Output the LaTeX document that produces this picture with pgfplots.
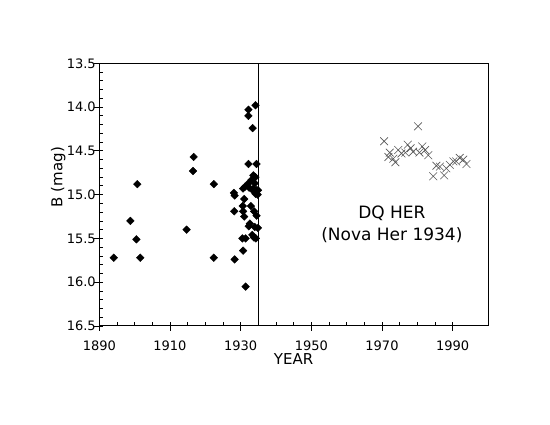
\documentclass[border=0pt]{standalone}
\usepackage{fontspec}
\setmainfont{DejaVu Sans}
\usepackage{pgfplots}
\pgfplotsset{compat=1.18}
\begin{document}
\begin{tikzpicture}
\path[use as bounding box, fill=white] (0,0) rectangle (550pt,425pt);
\pgfplotsset{
  common/.style={
    at={(99.3pt,99pt)}, anchor=south west,
    width=388.7pt, height=262.7pt, scale only axis,
    xmin=1890, xmax=2000, ymin=13.5, ymax=16.5, y dir=reverse,
    xtick={1890,1910,1930,1950,1970,1990},
    ytick={13.5,14,14.5,15,15.5,16,16.5},
    tick pos=left,
    axis line style={line width=1pt},
    every tick/.style={black, line width=0.8pt},
  }
}
\begin{axis}[common,
  tick align=inside,
  major tick length=3.5pt, minor tick length=3.5pt,
  minor x tick num=3, minor y tick num=4,
  /pgf/number format/assume math mode=true,
  ticklabel style={font=\fontsize{13}{15}\selectfont},
  xticklabel style={/pgf/number format/1000 sep={}, yshift=-11pt},
  yticklabel style={/pgf/number format/.cd, fixed, fixed zerofill, precision=1},
  xlabel={YEAR},
  xlabel style={at={(rel axis cs:0.5,0)}, anchor=north, yshift=-27pt, inner sep=0pt, font=\fontsize{15}{17}\selectfont},
  ylabel={B (mag)},
  ylabel style={at={(rel axis cs:0,0.567)}, anchor=base, yshift=37pt, inner sep=0pt, font=\fontsize{15}{17}\selectfont},
]
\addplot[black, line width=1pt, mark=none] coordinates {(1935,13.5) (1935,16.5)};
\addplot[only marks, mark=square*, mark size=2.7pt, mark options={rotate=45, fill=black, draw=black}] coordinates {
(1894.1,15.72) (1898.8,15.30) (1900.5,15.51) (1900.75,14.88) (1901.6,15.72)
(1914.7,15.40) (1916.5,14.73) (1916.7,14.57) (1922.4,14.88) (1922.4,15.72)
(1928.1,14.98) (1928.3,15.01) (1928.2,15.19) (1928.3,15.74)
(1930.6,15.13) (1930.7,15.19) (1931.0,15.05) (1931.0,15.25) (1930.5,15.50)
(1931.4,15.50) (1930.7,15.64) (1931.4,16.05)
(1932.2,14.03) (1932.2,14.10) (1934.2,13.98) (1933.4,14.24) (1932.2,14.65) (1934.5,14.65)
(1933.6,14.78) (1933.1,14.83) (1932.2,14.87) (1931.2,14.91) (1934.0,14.87) (1933.6,14.93)
(1934.5,14.95) (1930.7,14.93) (1932.4,14.92) (1933.4,14.95) (1934.9,14.95) (1934.2,14.99)
(1934.8,15.00) (1934.2,14.80)
(1932.9,15.13) (1933.8,15.19) (1934.5,15.24) (1932.6,15.33) (1934.0,15.37) (1934.9,15.38)
(1932.3,15.36) (1933.3,15.46) (1933.8,15.49) (1934.3,15.50)
};
\addplot[only marks, mark=x, mark size=5.5pt, mark options={draw=black!65, line width=0.6pt}] coordinates {
(1970.6,14.39) (1971.8,14.57) (1972.2,14.52) (1973.2,14.59) (1973.8,14.63)
(1974.6,14.49) (1975.5,14.53) (1976.6,14.52) (1977.3,14.43) (1978.1,14.47)
(1978.8,14.51) (1980.2,14.22) (1980.6,14.52) (1981.4,14.45) (1982.2,14.49)
(1983.1,14.55) (1984.5,14.79) (1985.4,14.67) (1986.4,14.68) (1987.6,14.78)
(1988.2,14.70) (1989.2,14.66) (1990.2,14.62) (1991.0,14.62) (1992.0,14.58)
(1993.0,14.60) (1993.9,14.65)
};
\node[align=center, font=\fontsize{17}{22}\selectfont] at (axis cs:1972.8,15.335) {DQ HER\\(Nova Her 1934)};
\end{axis}
\begin{axis}[common,
  tick align=outside, major tick length=5pt,
  minor tick num=0,
  xticklabels={}, yticklabels={},
]
\end{axis}
\end{tikzpicture}
\end{document}
